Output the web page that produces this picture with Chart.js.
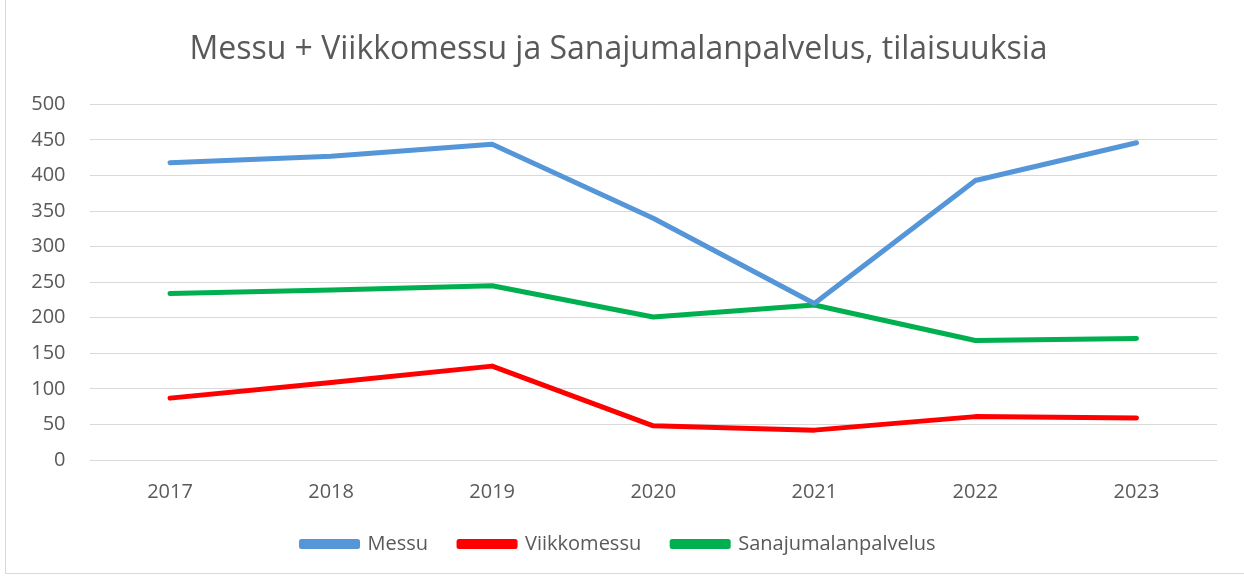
<!DOCTYPE html>
<html>
<head>
<meta charset="utf-8">
<script src="https://cdn.jsdelivr.net/npm/chart.js@4.4.1/dist/chart.umd.min.js"></script>
<style>
  body { margin: 0; background: #fff; }
  #wrap { position: absolute; left: 0; top: 0; width: 1244px; height: 577px; }
  #frame { position: absolute; left: 5px; top: -1px; width: 1250px; height: 573px; border: 1px solid #d9d9d9; }
</style>
</head>
<body>
<div id="frame"></div>
<div id="wrap"><canvas id="chart" width="1244" height="577"></canvas></div>
<script>
// Data
const years = ['2017', '2018', '2019', '2020', '2021', '2022', '2023'];
const messu = [418, 427, 444, 340, 220, 393, 446];
const viikkomessu = [87, 109, 132, 48, 42, 61, 59];
const sanajumalanpalvelus = [234, 239, 245, 201, 218, 168, 171];

Chart.defaults.font.family = '"Open Sans", sans-serif';
Chart.defaults.color = '#595959';

const ctx = document.getElementById('chart').getContext('2d');
new Chart(ctx, {
    type: 'line',
    data: {
        labels: years,
        datasets: [
            { label: 'Messu', data: messu, borderColor: '#5596d8', backgroundColor: '#5596d8' },
            { label: 'Viikkomessu', data: viikkomessu, borderColor: '#ff0000', backgroundColor: '#ff0000' },
            { label: 'Sanajumalanpalvelus', data: sanajumalanpalvelus, borderColor: '#00b050', backgroundColor: '#00b050' }
        ]
    },
    options: {
        responsive: false,
        animation: false,
        elements: {
            line: { borderWidth: 5, tension: 0, borderCapStyle: 'round', borderJoinStyle: 'round' },
            point: { radius: 0 }
        },
        layout: { padding: { left: 20, right: 27, top: 0, bottom: 13 } },
        plugins: {
            title: {
                display: true,
                text: 'Messu + Viikkomessu ja Sanajumalanpalvelus, tilaisuuksia',
                font: { size: 32, weight: 'normal' },
                color: '#595959',
                padding: { top: 31, bottom: 35 }
            },
            legend: {
                position: 'bottom',
                labels: { boxWidth: 56, boxHeight: 5, padding: 31, font: { size: 20 } }
            },
            tooltip: { enabled: false }
        },
        scales: {
            x: {
                offset: true,
                grid: { display: false, drawTicks: false },
                border: { display: false },
                ticks: { padding: 20, font: { size: 20 } },
                afterFit: (scale) => { scale.height -= 21; }
            },
            y: {
                min: 0,
                max: 500,
                ticks: { stepSize: 50, padding: 24, font: { size: 20 } },
                grid: { color: '#d9d9d9', lineWidth: 1, drawTicks: false },
                border: { display: false },
                afterFit: (scale) => { scale.width = 69.5; }
            }
        }
    }
});
</script>
</body>
</html>
